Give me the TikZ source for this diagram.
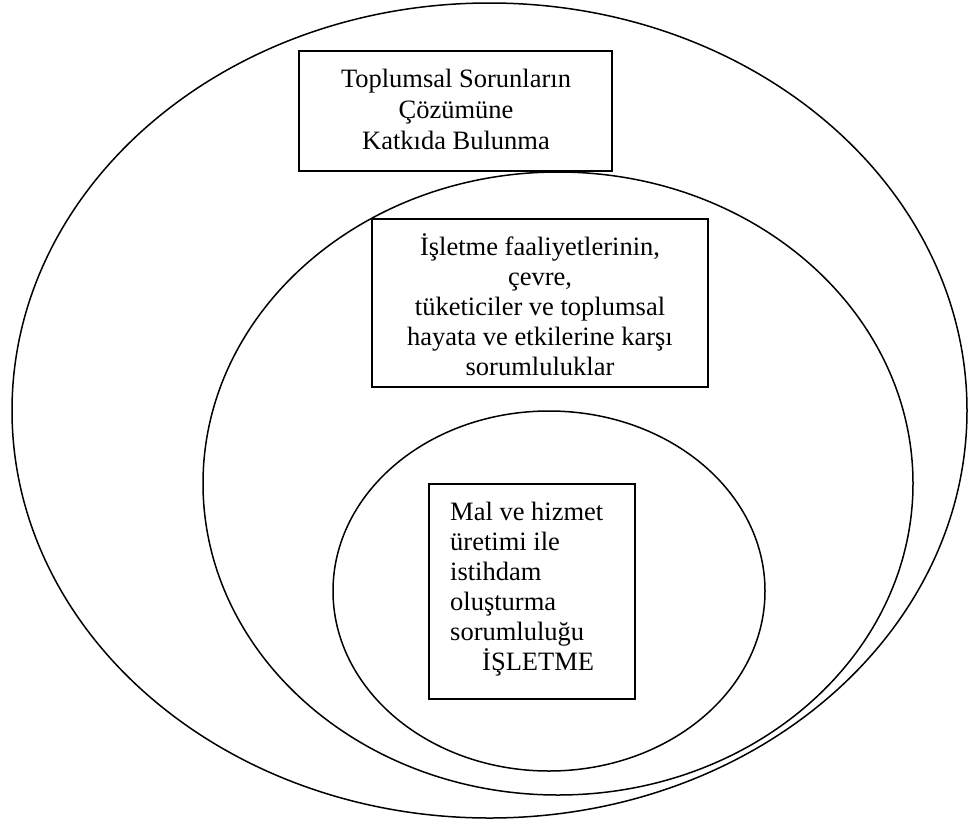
\documentclass[tikz,border=0pt]{standalone}
\usepackage{fontspec}
\setmainfont{Liberation Serif}
\usetikzlibrary{shapes.geometric}
\begin{document}
\begin{tikzpicture}[x=1pt,y=-1pt,
  ring/.style={draw,ellipse,line width=1.5pt,inner sep=0pt},
  boxframe/.style={draw,rectangle,line width=1.5pt,inner sep=0pt},
  label/.style={inner sep=0pt,font=\fontsize{26.5}{30}\selectfont}
]
\useasboundingbox (0,0) rectangle (969,825);
% ellipses
\node[ring,minimum width=955pt,minimum height=815pt] (outer) at (489.5,410.5) {};
\node[ring,minimum width=710pt,minimum height=623pt] (middle) at (558,483.5) {};
\node[ring,minimum width=432pt,minimum height=360pt] (inner) at (549,591) {};
% boxes
\node[boxframe,fill=white,minimum width=313pt,minimum height=120pt] (topbox) at (455.5,111) {};
\node[boxframe,fill=white,minimum width=336pt,minimum height=168pt] (midbox) at (540,303) {};
\node[boxframe,fill=white,minimum width=206pt,minimum height=215pt] (inbox) at (532,591.5) {};
% texts
\node[label,align=center,font=\fontsize{26.5}{31}\selectfont] (toptext) at (456,111.8)
  {\strut Toplumsal Sorunların\\Çözümüne\\Katkıda Bulunma\strut};
\node[label,align=center] (midtext) at (540,309)
  {\strut İşletme faaliyetlerinin,\\çevre,\\tüketiciler ve toplumsal\\hayata ve etkilerine karşı\\sorumluluklar\strut};
\node[label,align=left,anchor=west] (intext) at (450,589)
  {\strut Mal ve hizmet\\üretimi ile\\istihdam\\oluşturma\\sorumluluğu\\\hspace*{32pt}İŞLETME\strut};
\end{tikzpicture}
\end{document}
